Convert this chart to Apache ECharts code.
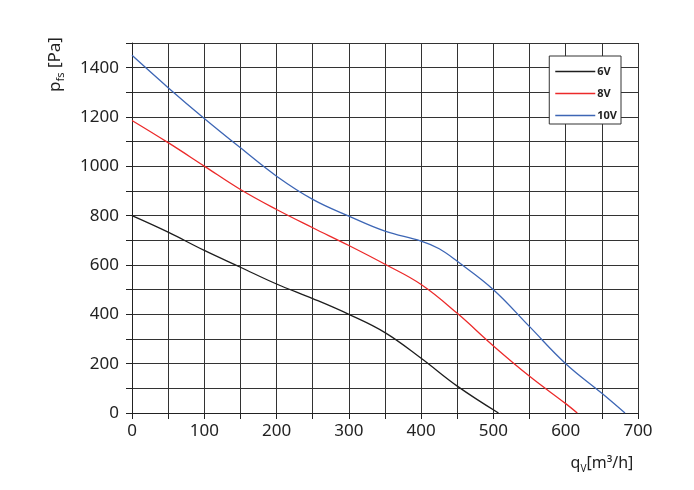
<!DOCTYPE html>
<html><head><meta charset="utf-8">
<script src="https://cdn.jsdelivr.net/npm/echarts@6/dist/echarts.min.js"></script>
<style>html,body{margin:0;padding:0;background:#fff}#c{width:694px;height:490px}</style>
</head><body><div id="c"></div>
<script>
const seriesNames = ['6V', '8V', '10V'];
const xFlow = {
  '6V':  [0, 50, 100, 150, 200, 250, 300, 350, 400, 450, 507],
  '8V':  [0, 50, 100, 150, 200, 250, 300, 350, 400, 450, 500, 550, 600, 616],
  '10V': [0, 50, 100, 150, 200, 250, 300, 350, 400, 425, 450, 500, 550, 600, 650, 682]
};
const yPressure = {
  '6V':  [800, 733, 659, 591, 523, 464, 400, 326, 222, 109, 0],
  '8V':  [1186, 1096, 1001, 906, 825, 751, 679, 603, 521, 404, 272, 149, 38, 0],
  '10V': [1450, 1319, 1194, 1075, 960, 866, 798, 737, 697, 666, 615, 500, 350, 200, 80, 0]
};
const colors = ['#1e1e1e', '#ec2a2a', '#3d66b5'];
const xTicks = [0, 100, 200, 300, 400, 500, 600, 700];
const yTicks = [0, 200, 400, 600, 800, 1000, 1200, 1400];

const chart = echarts.init(document.getElementById('c'));
const font = 'Noto Sans';
chart.setOption({
  animation: false,
  backgroundColor: '#fff',
  grid: { left: 132, right: 56, top: 43, bottom: 77 },
  xAxis: {
    type: 'value', min: 0, max: 700, interval: 50,
    axisLine: { lineStyle: { color: '#222', width: 1 } },
    axisTick: { show: true, length: 6, lineStyle: { color: '#222' } },
    axisLabel: { color: '#222', fontSize: 17, fontFamily: font, margin: 10,
      formatter: v => xTicks.includes(v) ? String(v) : '' },
    splitLine: { show: true, lineStyle: { color: '#333', width: 1 } }
  },
  yAxis: {
    type: 'value', min: 0, max: 1500, interval: 100,
    name: '{p|p}{s|fs}{p| [Pa]}', nameLocation: 'end', nameRotate: 90, nameGap: -49,
    nameTextStyle: { padding: [0, 0, 154, 0], color: '#222',
      rich: { p: { fontSize: 17, lineHeight: 22, fontFamily: font, color: '#222' },
              s: { fontSize: 11, lineHeight: 12, verticalAlign: 'bottom', fontFamily: font, color: '#222' } } },
    axisLine: { show: true, lineStyle: { color: '#222', width: 1 } },
    axisTick: { show: true, length: 6, lineStyle: { color: '#222' } },
    axisLabel: { color: '#222', fontSize: 17, fontFamily: font, margin: 13,
      formatter: v => yTicks.includes(v) ? String(v) : '' },
    splitLine: { show: true, lineStyle: { color: '#333', width: 1 } }
  },
  legend: {
    show: true, orient: 'vertical', right: 73, top: 56,
    backgroundColor: '#fff', borderColor: '#333', borderWidth: 1,
    padding: [10, 4, 3, 6], itemGap: 11,
    icon: 'rect', itemWidth: 40, itemHeight: 1.5,
    textStyle: { fontSize: 11, fontWeight: 'bold', color: '#222', fontFamily: font, padding: [0, 0, 0, -3] },
    data: seriesNames
  },
  graphic: [
    { type: 'text', x: 602, y: 463,
      style: { text: '{p|q}{s|V}{p|[m³/h]}', align: 'center', verticalAlign: 'middle', fill: '#222',
        rich: { p: { fontSize: 16, lineHeight: 22, fontFamily: font, fill: '#222' },
                s: { fontSize: 10, lineHeight: 11, verticalAlign: 'bottom', fontFamily: font, fill: '#222' } } } }
  ],
  series: seriesNames.map((n, i) => ({
    name: n, type: 'line', smooth: 0.4, showSymbol: false, symbol: 'none',
    lineStyle: { color: colors[i], width: 1.3 }, itemStyle: { color: colors[i] },
    data: xFlow[n].map((x, k) => [x, yPressure[n][k]])
  }))
});
</script></body></html>
